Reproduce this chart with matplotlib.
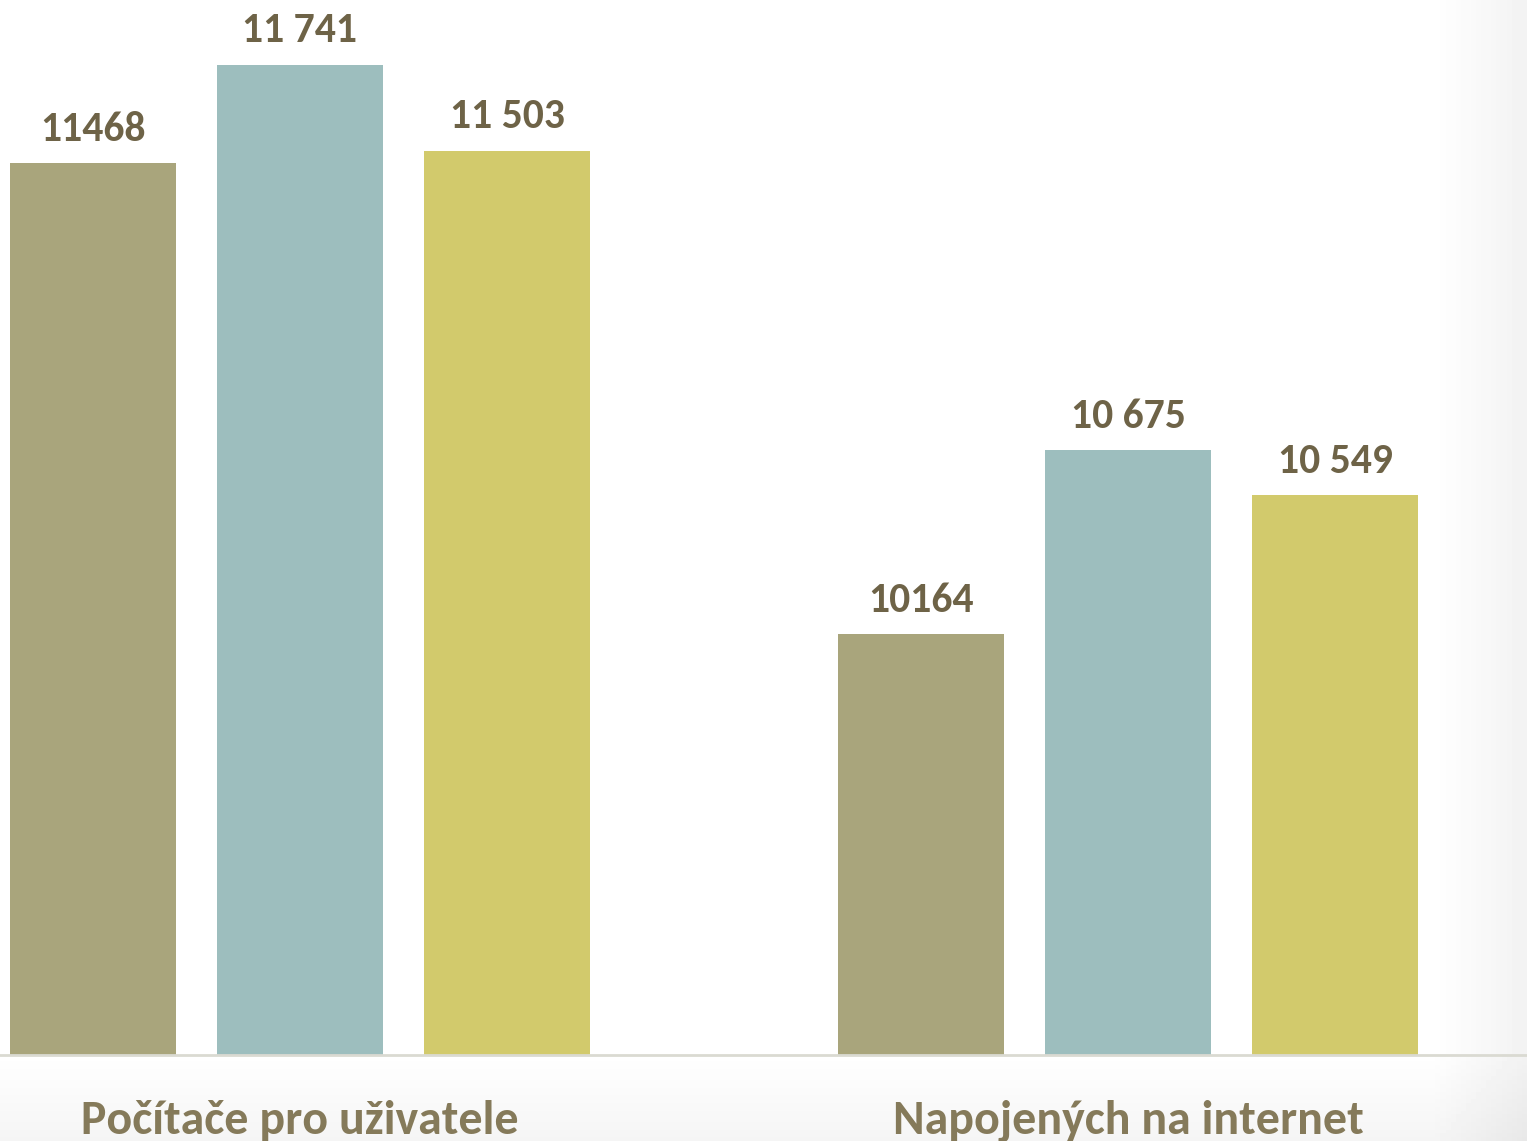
import numpy as np
import matplotlib.pyplot as plt
from matplotlib.transforms import blended_transform_factory

# --- data ---
categories = ["Počítače pro uživatele", "Napojených na internet"]
series_a = [11468, 10164]
series_b = [11741, 10675]
series_c = [11503, 10549]
labels_a = ["11468", "10164"]
labels_b = ["11 741", "10 675"]
labels_c = ["11 503", "10 549"]

colors = ["#A9A57C", "#9DBEBE", "#D2CA6C"]
value_color = "#6E6347"
cat_color = "#857A5A"
font = ["Carlito", "Lato", "DejaVu Sans"]

W, H = 1527, 1141
fig = plt.figure(figsize=(W / 100, H / 100), dpi=100)
fig.patch.set_facecolor("white")

# faint grey shading at right edge and bottom strip
bg = fig.add_axes([0, 0, 1, 1], zorder=-10)
xx = np.linspace(0, 1, 300)[None, :]
yy = np.linspace(0, 1, 300)[:, None]
shade = np.clip((xx - 0.94) / 0.06, 0, 1) * 0.05 + np.clip((0.075 - yy) / 0.075, 0, 1) * 0.04
bg.imshow(1 - shade, cmap="gray", vmin=0, vmax=1, extent=[0, 1, 0, 1], aspect="auto", origin="lower")
bg.axis("off")

ax = fig.add_axes([0, 86 / H, 1, 1 - 86 / H])
ax.set_facecolor("none")

x = np.arange(len(categories))
width = 0.2
offsets = [-0.25, 0, 0.25]
for vals, labs, off, col in zip([series_a, series_b, series_c],
                                [labels_a, labels_b, labels_c], offsets, colors):
    ax.bar(x + off, vals, width=width, color=col, zorder=2)
    for xi, v, lab in zip(x + off, vals, labs):
        ax.annotate(lab, (xi, v), xytext=(0, 16), textcoords="offset points",
                    ha="center", va="baseline", fontsize=30, fontweight="bold",
                    color=value_color, family=font)

ax.set_ylim(9000, 11920)
ax.set_xlim(-0.3623, 1.4819)
ax.axhline(9000, color="#DADAD2", lw=2, zorder=3, clip_on=False)

trans = blended_transform_factory(ax.transData, fig.transFigure)
for xi, cat in zip(x, categories):
    ax.text(xi, (H - 1134) / H, cat, transform=trans, ha="center", va="baseline",
            fontsize=34.5, fontweight="bold", color=cat_color, family=font, clip_on=False)

for s in ax.spines.values():
    s.set_visible(False)
ax.set_xticks([])
ax.set_yticks([])

fig.savefig("out.png", dpi=100)
